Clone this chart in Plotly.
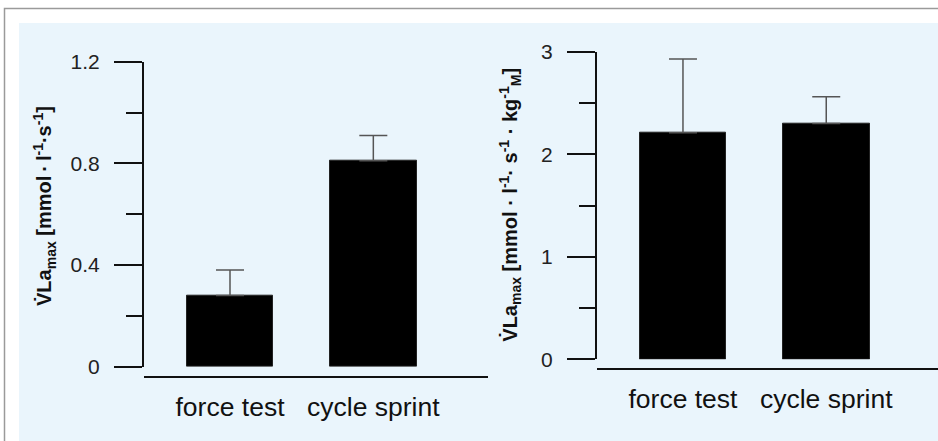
import plotly.graph_objects as go

# Groups and measured values (mean and SD)
categories = ["force test", "cycle sprint"]
vla_abs = [0.28, 0.81]
vla_abs_sd = [0.10, 0.10]
vla_rel = [2.21, 2.30]
vla_rel_sd = [0.72, 0.26]

# Axis tick values
abs_ticks = [0, 0.4, 0.8, 1.2]
abs_minor = 0.2
rel_ticks = [0, 1, 2, 3]
rel_minor = 0.5

W, H = 938, 441
FONT = "Liberation Sans"
AXIS_COLOR = "#111111"
ERR_COLOR = "#555555"
PANEL = "#EAF5FC"


def px(x):
    return x / W


def py(y):
    return 1 - y / H


fig = go.Figure()

fig.add_trace(go.Bar(
    x=categories, y=vla_abs, width=0.606,
    marker=dict(color="black", line=dict(color="#222222", width=1)),
    error_y=dict(type="data", array=vla_abs_sd, arrayminus=[0] * len(vla_abs_sd),
                 symmetric=False, color=ERR_COLOR, thickness=1.5, width=14),
    xaxis="x", yaxis="y", showlegend=False,
))
fig.add_trace(go.Bar(
    x=categories, y=vla_rel, width=0.604,
    marker=dict(color="black", line=dict(color="#222222", width=1)),
    error_y=dict(type="data", array=vla_rel_sd, arrayminus=[0] * len(vla_rel_sd),
                 symmetric=False, color=ERR_COLOR, thickness=1.5, width=14),
    xaxis="x2", yaxis="y2", showlegend=False,
))

tick_font = dict(family=FONT, size=21, color="#222222")
cat_font = dict(family=FONT, size=26.5, color="#111111")


def yaxis_style(ticks, minor_step, rng, domain, anchor):
    return dict(
        range=rng, domain=domain, anchor=anchor, automargin=False,
        tickmode="array", tickvals=ticks,
        ticks="outside", ticklen=28, tickwidth=2, tickcolor=AXIS_COLOR,
        showline=True, linecolor=AXIS_COLOR, linewidth=2,
        showgrid=False, zeroline=False,
        tickfont=tick_font, ticklabelstandoff=10,
        minor=dict(dtick=minor_step, ticks="outside", ticklen=16, tickwidth=2,
                   tickcolor=AXIS_COLOR, showgrid=False),
        fixedrange=True,
    )


def xaxis_style(rng, domain, pos):
    return dict(
        type="category", range=rng, domain=domain, anchor="free", position=pos,
        automargin=False,
        showline=True, linecolor=AXIS_COLOR, linewidth=2,
        ticks="", showgrid=False, zeroline=False,
        tickfont=cat_font, ticklabelstandoff=6, fixedrange=True,
    )


title_font = dict(family=FONT, size=20, color="#111111", weight="bold")
thin = "\u2009"

fig.update_layout(
    width=W, height=H,
    margin=dict(l=0, r=0, t=0, b=0, autoexpand=False),
    paper_bgcolor="white",
    plot_bgcolor="rgba(0,0,0,0)",
    bargap=0,
    xaxis=xaxis_style([-0.6, 1.8], [px(144), px(488)], py(376.7)),
    yaxis=yaxis_style(abs_ticks, abs_minor, [0, 1.2], [py(366.7), py(61.7)], "x"),
    xaxis2=xaxis_style([-0.6, 1.78], [px(597), 1.0], py(369.3)),
    yaxis2=yaxis_style(rel_ticks, rel_minor, [0, 3], [py(359.3), py(51.7)], "x2"),
    shapes=[
        # outer grey frame
        dict(type="rect", xref="paper", yref="paper", layer="below",
             x0=px(4.5), x1=1.01, y0=-0.01, y1=py(8.5),
             line=dict(color="#9A9A9A", width=1.5), fillcolor="white"),
        # light blue panel
        dict(type="rect", xref="paper", yref="paper", layer="below",
             x0=px(19), x1=1.0, y0=0, y1=py(23),
             line=dict(width=0), fillcolor=PANEL),
    ],
    annotations=[
        dict(text=f"V\u0307La<sub>max</sub> [mmol{thin}·{thin}l<sup>-1</sup>·s<sup>-1</sup>]",
             xref="paper", yref="paper", x=px(45), y=py(206),
             xanchor="center", yanchor="middle", textangle=-90, showarrow=False,
             font=title_font),
        dict(text="V\u0307La<sub>max</sub> [mmol · l<sup>-1</sup>· s<sup>-1</sup> · kg<sup>-1</sup><sub>M</sub>]",
             xref="paper", yref="paper", x=px(509.7), y=py(205),
             xanchor="center", yanchor="middle", textangle=-90, showarrow=False,
             font=title_font),
    ],
)

fig.write_html("out.html")
